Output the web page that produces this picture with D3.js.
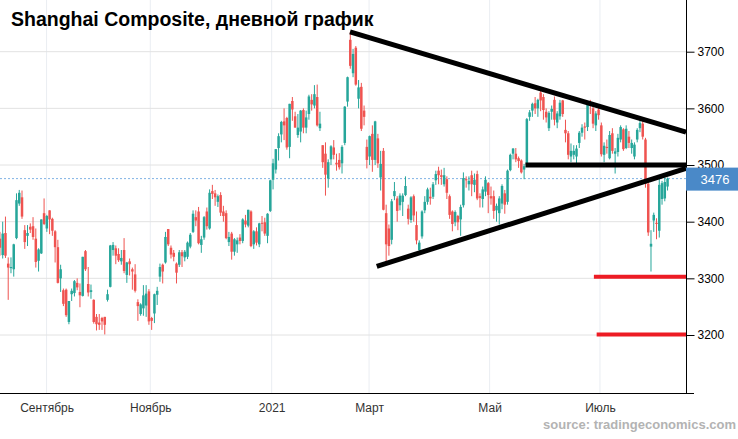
<!DOCTYPE html>
<html><head><meta charset="utf-8">
<script src="https://cdn.jsdelivr.net/npm/d3@7"></script>
<style>body{margin:0;background:#fff;}svg{display:block;font-family:"Liberation Sans",Arial,sans-serif;}</style>
</head><body><svg id="c" width="738" height="439"></svg>
<script>
// trading-day index of the first candle (7 Aug 2020); index 0 = 10 Aug 2020
const firstIndex = -1;
const opens = [
3370,3341,3380,3326,3318,3316,3371,3432,3443,3385,3375,3391,3392,3370,3331,3344,3415,
3388,3420,3405,3383,3355,3300,3279,3280,3223,3272,3274,3292,3276,3269,3348,3290,3276,3262,3232,3222,3230,3232,
3262,3285,3350,3353,3343,3330,3350,3306,3330,3316,3307,3258,3237,3247,3252,3277,
3230,3238,3271,3303,3324,3328,3387,3354,3345,3326,3324,3346,3337,3338,3356,3382,3408,3418,3359,3372,3418,
3388,3454,3450,3435,3447,3418,3415,3364,3379,3347,3360,3372,3366,3402,3393,3418,3360,3383,3360,3398,3399,3375,3419,
3474,3492,3530,3554,3577,3583,3532,3613,3586,3553,3559,3597,3566,3590,3615,3605,3620,3565,3535,3520,
3476,3510,3531,3504,3509,3503,3539,3612,3721,3662,3707,3617,3638,3596,3532,
3515,3555,3509,3547,3478,3525,3415,3388,3368,3445,3441,3429,3435,3447,3423,3403,3445,3394,3350,3374,3420,3435,3444,
3444,3473,3490,3482,3466,3475,3445,3418,3399,3410,3404,3429,3475,3466,3482,3465,3484,3445,3440,3453,3468,
3445,3445,3420,3415,3432,3450,3435,3491,3520,3520,3512,3508,3492,3500,3585,3596,3609,3600,
3628,3620,3594,3565,3594,3615,3575,3586,3614,3562,3556,3515,3518,3515,3539,3557,3568,3567,3610,3600,3570,
3598,3570,3518,3532,3512,3556,3520,3523,3545,3563,3530,3550,3530,3515,3545,3565,3573,3545,3467,3356,3402,3398,
3384,3440,3441,3462];
const highs = [
3382,3400,3409,3337,3337,3361,3450,3456,3455,3394,3394,3397,3408,3388,3353,3404,3441,
3412,3420,3407,3385,3368,3324,3282,3282,3260,3282,3297,3300,3291,3338,3350,3320,3289,3263,3237,3237,3232,3232,
3280,3359,3364,3358,3353,3350,3371,3329,3335,3319,3325,3263,3256,3288,3288,3281,
3232,3273,3285,3326,3326,3382,3387,3358,3350,3328,3350,3350,3350,3365,3380,3420,3420,3426,3375,3410,3425,
3457,3465,3456,3448,3452,3428,3420,3382,3382,3371,3372,3378,3406,3412,3421,3420,3385,3390,3398,3410,3407,3415,3474,
3511,3528,3556,3578,3600,3585,3608,3620,3594,3590,3597,3600,3596,3624,3625,3641,3642,3594,3535,3540,
3510,3535,3544,3520,3521,3535,3604,3656,3735,3705,3710,3650,3645,3605,3545,
3552,3570,3578,3555,3525,3530,3430,3395,3440,3470,3445,3450,3450,3480,3430,3445,3448,3418,3367,3420,3445,3460,3460,
3470,3490,3497,3492,3495,3480,3448,3420,3420,3412,3430,3487,3480,3480,3490,3485,3490,3450,3462,3480,3470,
3462,3455,3432,3445,3466,3456,3492,3520,3530,3530,3515,3510,3502,3583,3597,3610,3620,3617,
3632,3625,3600,3595,3605,3621,3595,3615,3615,3580,3560,3538,3535,3535,3560,3572,3575,3610,3615,3605,3595,
3605,3575,3540,3545,3560,3565,3530,3555,3570,3565,3570,3560,3545,3540,3565,3580,3578,3548,3470,3385,3416,3406,
3476,3472,3478,3478];
const lows = [
3340,3335,3336,3262,3309,3303,3369,3428,3405,3352,3357,3380,3368,3319,3312,3343,3394,
3382,3378,3375,3328,3291,3276,3251,3232,3219,3260,3268,3279,3249,3268,3313,3268,3264,3220,3208,3209,3209,3201,
3259,3284,3340,3325,3329,3324,3309,3292,3305,3280,3275,3225,3234,3234,3232,3218,
3209,3221,3253,3294,3291,3326,3357,3335,3330,3291,3320,3320,3330,3334,3353,3380,3392,3360,3345,3368,3386,
3386,3440,3428,3426,3410,3400,3369,3357,3333,3340,3345,3360,3362,3390,3390,3355,3352,3358,3355,3383,3375,3362,3417,
3457,3485,3508,3540,3544,3527,3512,3578,3566,3548,3540,3556,3556,3580,3596,3600,3568,3560,3495,3446,
3460,3500,3510,3490,3492,3485,3535,3603,3670,3655,3640,3600,3560,3570,3494,
3500,3488,3500,3495,3455,3420,3328,3340,3360,3438,3400,3420,3410,3445,3395,3398,3400,3360,3343,3370,3415,3430,3430,
3440,3465,3466,3465,3462,3440,3405,3383,3392,3385,3375,3425,3460,3455,3445,3452,3438,3425,3425,3445,3415,
3430,3405,3400,3395,3422,3414,3430,3489,3510,3505,3495,3485,3475,3498,3578,3585,3590,3585,
3595,3580,3575,3560,3580,3570,3565,3580,3585,3540,3510,3505,3510,3500,3530,3550,3545,3560,3590,3565,3560,
3580,3515,3505,3520,3510,3520,3485,3515,3540,3525,3528,3530,3520,3510,3540,3558,3545,3460,3375,3312,3382,3369,
3372,3430,3436,3455];
const closes = [
3354,3379,3340,3319,3320,3360,3438,3451,3409,3364,3380,3386,3373,3329,3351,3404,3396,
3410,3404,3384,3355,3292,3316,3255,3235,3260,3278,3295,3284,3270,3338,3316,3275,3279,3223,3219,3218,3224,3218,
3272,3358,3359,3340,3332,3336,3313,3328,3325,3312,3278,3251,3254,3270,3273,3224,
3225,3272,3278,3320,3312,3373,3360,3342,3338,3310,3346,3339,3347,3363,3377,3414,3402,3362,3369,3408,3392,
3451,3449,3443,3445,3416,3410,3371,3373,3347,3369,3367,3366,3404,3395,3421,3357,3383,3363,3397,3397,3379,3414,3473,
3503,3528,3551,3576,3570,3531,3608,3598,3566,3566,3596,3566,3584,3621,3607,3625,3570,3573,3505,3483,
3505,3533,3518,3501,3496,3532,3603,3655,3675,3696,3642,3637,3564,3585,3509,
3551,3509,3577,3503,3502,3421,3360,3357,3436,3454,3419,3446,3446,3463,3405,3443,3411,3367,3363,3418,3435,3457,3441,
3466,3484,3482,3479,3482,3451,3412,3396,3417,3399,3426,3477,3473,3472,3466,3474,3441,3442,3457,3474,3447,
3441,3419,3428,3441,3463,3430,3490,3518,3529,3510,3507,3487,3498,3581,3593,3608,3600,3615,
3614,3597,3584,3592,3599,3580,3591,3610,3590,3556,3518,3525,3525,3529,3557,3566,3566,3607,3606,3573,3591,
3588,3519,3534,3530,3553,3525,3524,3548,3567,3528,3564,3539,3539,3536,3562,3574,3550,3467,3381,3361,3412,3396,
3465,3468,3470,3476];

const priceTicks = [3200,3300,3400,3500,3600,3700];
const monthLabels = ["Сентябрь","Ноябрь","2021","Март","Май","Июль"];
const monthTickIndex = [15.9,53.5,97.5,132.8,176.5,216.5];
const lastPrice = 3476;
const title = "Shanghai Composite, дневной график";
const sourceText = "source: tradingeconomics.com";
// drawn annotations: [startIndex, startPrice, endIndex, endPrice]
const blackLines = [[125.9,3735,247.7,3558],[135.6,3321,247.7,3494],[189.5,3500,247.7,3500]];
const redLines = [[214.3,3303,247.7,3303],[215.3,3201,247.7,3201]];

const W = 738, H = 439, plotRight = 686, plotBottom = 393;
const x = d3.scaleLinear().domain([0,241]).range([2.7,667.55]);
const y = d3.scaleLinear().domain([3200,3700]).range([335,51.7]);
const svg = d3.select("#c");
svg.append("rect").attr("width",W).attr("height",H).attr("fill","#fff");
svg.append("clipPath").attr("id","clip").append("rect").attr("x",0).attr("y",0).attr("width",plotRight).attr("height",plotBottom);

const g = svg.append("g");
// vertical grid
g.selectAll("line.vg").data(monthTickIndex).enter().append("line")
 .attr("x1",d=>x(d)).attr("x2",d=>x(d)).attr("y1",0).attr("y2",plotBottom)
 .attr("stroke","#eaedf2").attr("stroke-width",1);
// horizontal grid
g.selectAll("line.hg").data(priceTicks).enter().append("line")
 .attr("x1",0).attr("x2",plotRight).attr("y1",d=>y(d)).attr("y2",d=>y(d))
 .attr("stroke","#e2e2e2").attr("stroke-width",1);
// last price dotted line
g.append("line").attr("x1",0).attr("x2",plotRight).attr("y1",y(lastPrice)).attr("y2",y(lastPrice))
 .attr("stroke","#7fb2e5").attr("stroke-width",1).attr("stroke-dasharray","2,2");

const candles = opens.map((o,k)=>({i:firstIndex+k,o,h:highs[k],l:lows[k],c:closes[k]}));
const cg = g.append("g").attr("clip-path","url(#clip)");
const col = d=> d.c>=d.o ? "#26a69a" : "#ef5350";
cg.selectAll("line.w").data(candles).enter().append("line")
 .attr("x1",d=>x(d.i)).attr("x2",d=>x(d.i)).attr("y1",d=>y(d.h)).attr("y2",d=>y(d.l))
 .attr("stroke",col).attr("stroke-width",1);
const bw = 2.5;
cg.selectAll("rect.b").data(candles).enter().append("rect")
 .attr("x",d=>x(d.i)-bw/2).attr("width",bw)
 .attr("y",d=>y(Math.max(d.o,d.c))).attr("height",d=>Math.max(1,Math.abs(y(d.o)-y(d.c))))
 .attr("fill",col);

// annotations
cg.selectAll("line.bl").data(blackLines).enter().append("line")
 .attr("x1",d=>x(d[0])).attr("y1",d=>y(d[1])).attr("x2",d=>x(d[2])).attr("y2",d=>y(d[3]))
 .attr("stroke","#000").attr("stroke-width",5);
cg.selectAll("line.rl").data(redLines).enter().append("line")
 .attr("x1",d=>x(d[0])).attr("y1",d=>y(d[1])).attr("x2",d=>x(d[2])).attr("y2",d=>y(d[3]))
 .attr("stroke","#ed1c24").attr("stroke-width",4);

// axes
g.append("line").attr("x1",0).attr("x2",694).attr("y1",plotBottom+0.5).attr("y2",plotBottom+0.5).attr("stroke","#000");
g.append("line").attr("x1",plotRight+0.5).attr("x2",plotRight+0.5).attr("y1",0).attr("y2",plotBottom).attr("stroke","#000");
const yAxis = d3.axisRight(y).tickValues(priceTicks).tickFormat(d3.format("d")).tickSize(8).tickPadding(3);
const ya = g.append("g").attr("transform",`translate(${plotRight+0.5},0)`).call(yAxis);
ya.select(".domain").remove();
ya.selectAll("line").attr("stroke","#000");
ya.selectAll("text").attr("font-size","12px").attr("fill","#000").attr("font-family","'Liberation Sans',Arial,sans-serif");

const xAxis = d3.axisBottom(x).tickValues(monthTickIndex).tickFormat((d,k)=>monthLabels[k]).tickSize(0).tickPadding(10);
const xa = g.append("g").attr("transform",`translate(0,${plotBottom})`).call(xAxis);
xa.select(".domain").remove();
xa.selectAll("text").attr("font-size","12px").attr("fill","#333").attr("font-family","'Liberation Sans',Arial,sans-serif");

// last price label
g.append("rect").attr("x",plotRight).attr("y",y(lastPrice)-11).attr("width",W-plotRight).attr("height",23).attr("fill","#4a89c8");
g.append("text").attr("x",715).attr("y",y(lastPrice)+5).attr("text-anchor","middle").attr("fill","#fff")
 .attr("font-size","13px").text(lastPrice);

// title and source
svg.append("text").attr("x",11).attr("y",26).attr("font-size","19.5px").attr("font-weight","bold").attr("fill","#000").text(title);
svg.append("text").attr("x",736).attr("y",429).attr("text-anchor","end").attr("font-size","13px").attr("font-weight","bold").attr("fill","#b3b3b3").text(sourceText);
</script></body></html>
